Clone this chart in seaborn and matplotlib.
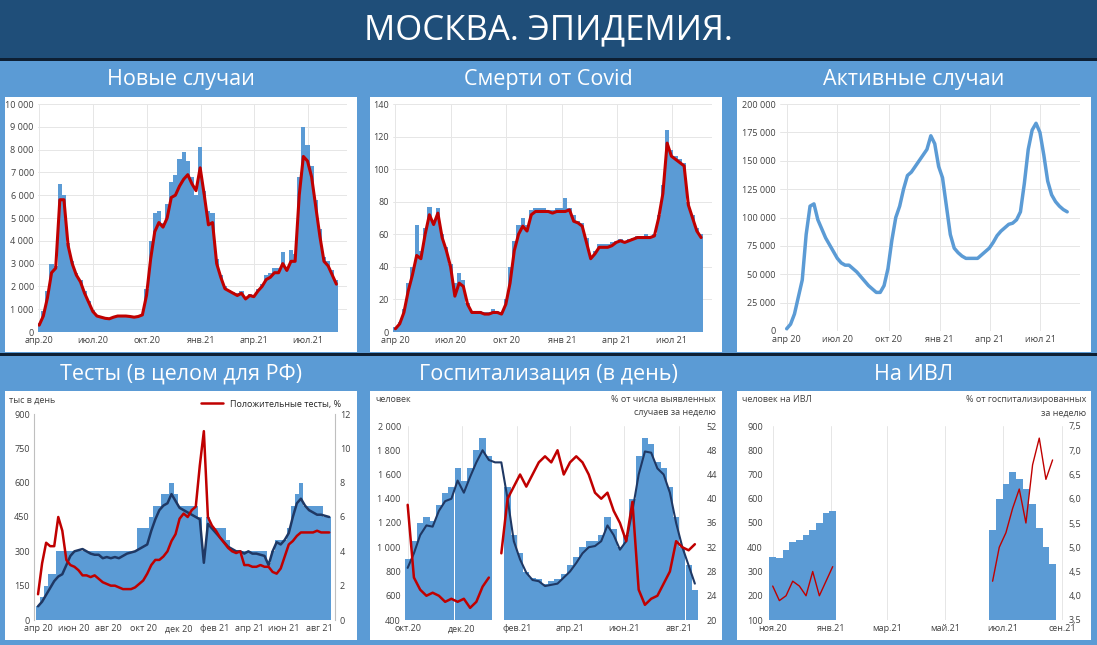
import numpy as np
import pandas as pd
import seaborn as sns
import matplotlib.pyplot as plt
from matplotlib.patches import Rectangle

# ---- data (weekly readings from the picture) ----
cases_line = [300, 700, 1500, 2600, 2800, 5800, 5800, 3800, 3000, 2500, 2200, 1700, 1300,
              900, 700, 650, 600, 580, 650, 700, 700, 700, 680, 650, 680, 750, 1600,
              3200, 4400, 4800, 4600, 5000, 5900, 6000, 6400, 6700, 6900, 6500, 6200, 7200,
              6000, 4700, 4800, 3000, 2400, 1900, 1800, 1700, 1600, 1700, 1450, 1600, 1550,
              1800, 2000, 2300, 2400, 2600, 2600, 3000, 2700, 3100, 3100, 6000, 7700, 7500,
              6800, 5500, 4200, 3100, 2900, 2500, 2100]
cases_bars = [400, 900, 1800, 3000, 2900, 6500, 6000, 3900, 3100, 2600, 2300, 1800, 1350,
              950, 720, 660, 620, 600, 660, 710, 700, 720, 690, 660, 690, 800, 1900,
              4000, 5200, 5300, 4800, 5600, 6600, 6900, 7600, 7900, 7500, 6800, 6000, 8100,
              6200, 5300, 5200, 3200, 2500, 2000, 1850, 1750, 1700, 1800, 1500, 1650, 1600,
              1900, 2100, 2500, 2600, 2800, 2800, 3500, 2800, 3600, 3400, 6800, 9000, 8200,
              7300, 5800, 4500, 3300, 3100, 2700, 2300]
deaths_line = [2, 5, 12, 25, 35, 47, 45, 60, 72, 66, 73, 58, 50, 40, 22, 30, 28, 17,
               12, 12, 12, 11, 11, 12, 12, 11, 17, 30, 50, 60, 65, 62, 72, 74, 74,
               74, 74, 73, 74, 74, 74, 75, 68, 67, 65, 55, 45, 48, 52, 52, 52, 53, 55,
               56, 55, 56, 57, 58, 58, 58, 58, 59, 70, 85, 116, 108, 106, 104, 102, 78,
               70, 62, 58]
deaths_bars = [3, 6, 14, 30, 40, 66, 50, 64, 77, 68, 76, 60, 52, 42, 30, 36, 32, 18,
               13, 13, 13, 12, 12, 14, 13, 12, 20, 40, 56, 66, 70, 66, 75, 76, 76,
               76, 75, 75, 76, 76, 82, 76, 72, 68, 67, 58, 46, 50, 54, 54, 54, 55, 56,
               57, 56, 57, 58, 59, 59, 60, 59, 60, 72, 90, 124, 112, 108, 106, 104, 80,
               72, 64, 60]
active = [2, 6, 15, 30, 45, 85, 110, 112, 98, 90, 82, 76, 70, 64, 60, 58, 58, 55,
          52, 48, 44, 40, 37, 34, 34, 40, 55, 80, 100, 110, 125, 137, 140, 145, 150,
          155, 160, 172, 165, 145, 135, 110, 85, 73, 69, 66, 64, 64, 64, 64, 67, 70, 73,
          78, 84, 88, 91, 94, 95, 98, 105, 130, 160, 177, 183, 175, 155, 132, 120, 114,
          110, 107, 105]

tests_avg = [60, 80, 110, 140, 170, 190, 200, 240, 280, 300, 305, 310, 300, 290, 285, 285, 270, 275,
             270, 275, 270, 280, 290, 295, 300, 310, 320, 330, 390, 440, 480, 500, 510, 550, 520,
             490, 480, 470, 460, 450, 440, 250, 420, 400, 380, 360, 340, 320, 310, 300, 300, 290,
             300, 290, 290, 285, 280, 240, 300, 340, 330, 350, 380, 450, 510, 530, 500, 480, 470,
             460, 460, 455, 450]
tests_bars = [60, 100, 150, 200, 200, 300, 300, 300, 300, 300, 300, 300, 300, 300, 300, 300, 300, 300,
              300, 300, 300, 300, 300, 300, 300, 400, 400, 400, 450, 500, 500, 550, 550, 600, 550,
              500, 500, 500, 500, 500, 450, 300, 450, 400, 400, 400, 400, 350, 300, 300, 300, 300,
              300, 300, 300, 300, 300, 250, 300, 350, 350, 350, 400, 500, 550, 600, 500, 500, 500,
              500, 500, 450, 450]
tests_pos = [1.5, 3.3, 4.5, 4.3, 4.3, 6.0, 5.2, 3.5, 3.2, 3.1, 2.9, 2.6, 2.6, 2.5, 2.6, 2.4, 2.2, 2.1,
             2.0, 2.0, 1.9, 1.8, 1.8, 1.8, 1.9, 2.1, 2.3, 2.7, 3.2, 3.5, 3.5, 3.7, 4.0, 4.6, 5.0,
             5.9, 6.2, 6.0, 6.4, 6.6, 9.0, 11.0, 6.0, 5.5, 5.2, 4.8, 4.5, 4.2, 4.0, 3.9, 4.0, 3.2,
             3.2, 3.1, 3.1, 3.2, 3.1, 3.1, 2.8, 2.7, 3.0, 3.7, 4.4, 4.6, 4.9, 5.1, 5.1, 5.1, 5.1,
             5.2, 5.1, 5.1, 5.1]

hosp_avg = [830, 950, 1100, 1180, 1170, 1300, 1380, 1400, 1550, 1450, 1580, 1700, 1800, 1720,
            1700, 1700, 1400, 1050, 900, 790, 730, 720, 680, 690, 700, 750, 800, 870, 950, 1000,
            1010, 1050, 1180, 1100, 980, 1050, 1300, 1600, 1790, 1780, 1650, 1600, 1450, 1200,
            1000, 850, 700]
hosp_bars = [900, 1050, 1200, 1250, 1220, 1350, 1450, 1500, 1650, 1550, 1650, 1800, 1900, 1750,
             np.nan, np.nan, 1500, 1100, 950, 800, 750, 740, 700, 720, 740, 780, 850, 920, 1000, 1050,
             1050, 1100, 1250, 1150, 1000, 1100, 1400, 1750, 1900, 1850, 1700, 1650, 1500, 1250,
             1000, 850, 650]
hosp_pct = [39, 27, 25, 24, 24.5, 24, 23, 23.5, 23, 23.5, 22, 23, 25.5, 27,
            np.nan, 31, 40, 42, 44, 42, 44, 46, 47, 46, 48, 44, 46, 47, 46, 44,
            41, 40, 41, 38, 36, 33, 39.5, 25, 22.5, 23.5, 24, 26, 28, 33,
            32, 31.5, 32.5]

vent_bars = [360, 355, 390, 420, 430, 450, 470, 500, 540, 550] + [np.nan] * 23 + \
            [470, 600, 660, 710, 680, 640, 580, 480, 400, 330]
vent_pct = [4.2, 3.9, 4.0, 4.3, 4.2, 4.0, 4.5, 4.0, 4.3, 4.6] + [np.nan] * 23 + \
           [4.3, 5.0, 5.3, 5.8, 6.2, 5.5, 6.7, 7.25, 6.4, 6.8]

ticks_q = ['2020-04-01', '2020-07-01', '2020-10-01', '2021-01-01', '2021-04-01', '2021-07-01']
labels_cases = ['апр.20', 'июл.20', 'окт.20', 'янв.21', 'апр.21', 'июл.21']
labels_q = ['апр 20', 'июл 20', 'окт 20', 'янв 21', 'апр 21', 'июл 21']
ticks_tests = ['2020-04-01', '2020-06-01', '2020-08-01', '2020-10-01', '2020-12-01',
               '2021-02-01', '2021-04-01', '2021-06-01', '2021-08-01']
labels_tests = ['апр 20', 'июн 20', 'авг 20', 'окт 20', 'дек 20', 'фев 21', 'апр 21', 'июн 21', 'авг 21']
ticks_hosp = ['2020-10-01', '2020-12-01', '2021-02-01', '2021-04-01', '2021-06-01', '2021-08-01']
labels_hosp = ['окт.20', 'дек.20', 'фев.21', 'апр.21', 'июн.21', 'авг.21']
ticks_vent = ['2020-11-01', '2021-01-01', '2021-03-01', '2021-05-01', '2021-07-01', '2021-09-01']
labels_vent = ['ноя.20', 'янв.21', 'мар.21', 'май.21', 'июл.21', 'сен.21']

weeks = pd.date_range('2020-04-01', periods=len(cases_line), freq='7D')
weeks_h = pd.date_range('2020-10-01', periods=len(hosp_avg), freq='7D')
weeks_v = pd.date_range('2020-11-01', periods=len(vent_bars), freq='7D')

BAR = '#5b9bd5'
RED = '#c00000'
NAVY = '#1f3864'
HEAD = '#1f4e79'
W, H = 1097, 645

sns.set_style('white')
plt.rcParams['font.family'] = ['Open Sans', 'DejaVu Sans']

fig = plt.figure(figsize=(W / 100, H / 100), dpi=100)
fig.patch.set_facecolor(BAR)


def px_box(x0, y0, x1, y1):
    return [x0 / W, 1 - y1 / H, (x1 - x0) / W, (y1 - y0) / H]


def rect(x0, y0, x1, y1, color):
    l, b, w, h = px_box(x0, y0, x1, y1)
    fig.patches.append(Rectangle((l, b), w, h, transform=fig.transFigure,
                                 facecolor=color, edgecolor='none', zorder=-10))


def segments(ax, x, y, **kw):
    # seaborn drops NaN and joins the gap, so draw each run separately
    s = pd.Series(y, index=x)
    grp = s.isna().cumsum()
    for _, part in s[s.notna()].groupby(grp[s.notna()]):
        sns.lineplot(x=part.index, y=part.values, ax=ax, **kw)


rect(0, 0, W, 58, HEAD)
rect(0, 58, W, 61, '#0d1f33')
rect(0, 353, W, 356, '#0d1f33')
fig.text(0.5, 1 - 30 / H, 'МОСКВА. ЭПИДЕМИЯ.', color='white', fontsize=25,
         ha='center', va='center')

titles = [('Новые случаи', 181, 80), ('Смерти от Covid', 548, 80), ('Активные случаи', 914, 80),
          ('Тесты (в целом для РФ)', 181, 374), ('Госпитализация (в день)', 548, 374), ('На ИВЛ', 914, 374)]
for t, x, y in titles:
    fig.text(x / W, 1 - y / H, t, color='white', fontsize=15.5, ha='center', va='center')

for x0, x1 in [(5, 357), (370, 722), (737, 1091)]:
    rect(x0, 97, x1, 352, 'white')
    rect(x0, 391, x1, 640, 'white')


def style(ax, ticks, labels, grid_x=True, grid_y=True):
    ax.patch.set_alpha(0)
    for s in ax.spines.values():
        s.set_visible(False)
    ax.set_xticks(pd.to_datetime(ticks))
    ax.set_xticklabels(labels)
    ax.tick_params(labelsize=6.5, colors='#404040', length=0, pad=3)
    if grid_x:
        ax.grid(axis='x', color='#e6e6e6', lw=0.7)
    if grid_y:
        ax.grid(axis='y', color='#e6e6e6', lw=0.7)
    ax.set_axisbelow(True)
    ax.set_xlabel('')
    ax.set_ylabel('')


def fmt_thousands(ax, vals):
    ax.set_yticks(vals)
    ax.set_yticklabels([f'{v:,}'.replace(',', '\u00a0') for v in vals])


def right_axis(ax):
    ax.tick_params(labelsize=6.5, colors='#404040', length=0)
    for s in ax.spines.values():
        s.set_visible(False)
    ax.set_ylabel('')
    ax.patch.set_alpha(0)


# panel 1: new cases
ax1 = fig.add_axes(px_box(38, 104, 347, 332))
ax1.bar(weeks, cases_bars, width=7, color=BAR, linewidth=0)
sns.lineplot(x=weeks, y=cases_line, ax=ax1, color=RED, lw=2.2)
ax1.set_xlim(pd.Timestamp('2020-03-30'), pd.Timestamp('2021-09-05'))
ax1.set_ylim(0, 10000)
fmt_thousands(ax1, list(range(0, 10001, 1000)))
style(ax1, ticks_q, labels_cases)

# panel 2: deaths
ax2 = fig.add_axes(px_box(393, 104, 712, 332))
ax2.bar(weeks, deaths_bars, width=7, color=BAR, linewidth=0)
sns.lineplot(x=weeks, y=deaths_line, ax=ax2, color=RED, lw=2.2)
ax2.set_xlim(pd.Timestamp('2020-03-28'), pd.Timestamp('2021-09-05'))
ax2.set_ylim(0, 140)
ax2.set_yticks(range(0, 141, 20))
style(ax2, ticks_q, labels_q)

# panel 3: active cases
ax3 = fig.add_axes(px_box(780, 104, 1080, 331))
sns.lineplot(x=weeks, y=[v * 1000 for v in active], ax=ax3, color=BAR, lw=2.5)
ax3.set_xlim(pd.Timestamp('2020-03-20'), pd.Timestamp('2021-09-10'))
ax3.set_ylim(0, 200000)
fmt_thousands(ax3, list(range(0, 200001, 25000)))
style(ax3, ticks_q, labels_q)

# panel 4: tests
ax4 = fig.add_axes(px_box(34, 414, 335, 620))
ax4.bar(weeks, tests_bars, width=7, color=BAR, linewidth=0)
sns.lineplot(x=weeks, y=tests_avg, ax=ax4, color=NAVY, lw=1.8)
ax4.set_xlim(pd.Timestamp('2020-03-25'), pd.Timestamp('2021-08-28'))
ax4.set_ylim(0, 900)
ax4.set_yticks(range(0, 901, 150))
style(ax4, ticks_tests, labels_tests, grid_x=False, grid_y=False)
ax4.spines['left'].set_visible(True)
ax4.spines['left'].set_color('#bfbfbf')
ax4b = ax4.twinx()
sns.lineplot(x=weeks, y=tests_pos, ax=ax4b, color=RED, lw=1.8, label='Положительные тесты, %')
ax4b.set_ylim(0, 12)
ax4b.set_yticks(range(0, 13, 2))
right_axis(ax4b)
ax4b.spines['right'].set_visible(True)
ax4b.spines['right'].set_color('#bfbfbf')
ax4b.legend(loc='lower right', bbox_to_anchor=(1.04, 1.0), frameon=False, fontsize=6.5,
            handlelength=2.5, borderaxespad=0.2)
fig.text(9 / W, 1 - 400 / H, 'тыс в день', fontsize=6.5, color='#404040', va='center')

# panel 5: hospitalisations
ax5 = fig.add_axes(px_box(405, 426, 702, 620))
ax5.bar(weeks_h, hosp_bars, width=7, color=BAR, linewidth=0)
sns.lineplot(x=weeks_h, y=hosp_avg, ax=ax5, color=NAVY, lw=1.5)
ax5.set_xlim(pd.Timestamp('2020-09-28'), pd.Timestamp('2021-08-27'))
ax5.set_ylim(400, 2000)
fmt_thousands(ax5, list(range(400, 2001, 200)))
style(ax5, ticks_hosp, labels_hosp, grid_y=False)
ax5b = ax5.twinx()
segments(ax5b, weeks_h, hosp_pct, color=RED, lw=1.8)
ax5b.set_ylim(20, 52)
ax5b.set_yticks(range(20, 53, 4))
right_axis(ax5b)
fig.text(375 / W, 1 - 400 / H, 'человек', fontsize=6.5, color='#404040', va='center')
fig.text(716 / W, 1 - 406 / H, '% от числа выявленных\nслучаев за неделю', fontsize=6.5,
         color='#404040', va='center', ha='right', linespacing=1.6)

# panel 6: ventilation
ax6 = fig.add_axes(px_box(767, 426, 1064, 620))
ax6.bar(weeks_v, vent_bars, width=7, color=BAR, linewidth=0)
ax6.set_xlim(pd.Timestamp('2020-10-26'), pd.Timestamp('2021-09-03'))
ax6.set_ylim(100, 900)
ax6.set_yticks(range(100, 901, 100))
style(ax6, ticks_vent, labels_vent, grid_y=False)
ax6b = ax6.twinx()
segments(ax6b, weeks_v, vent_pct, color=RED, lw=1.0)
ax6b.set_ylim(3.5, 7.5)
rt = [3.5, 4.0, 4.5, 5.0, 5.5, 6.0, 6.5, 7.0, 7.5]
ax6b.set_yticks(rt)
ax6b.set_yticklabels([f'{v:.1f}'.replace('.', ',') for v in rt])
right_axis(ax6b)
fig.text(742 / W, 1 - 400 / H, 'человек на ИВЛ', fontsize=6.5, color='#404040', va='center')
fig.text(1086 / W, 1 - 406 / H, '% от госпитализированных\nза неделю', fontsize=6.5,
         color='#404040', va='center', ha='right', linespacing=1.6)

fig.savefig('out.png', dpi=100, facecolor=fig.get_facecolor())
